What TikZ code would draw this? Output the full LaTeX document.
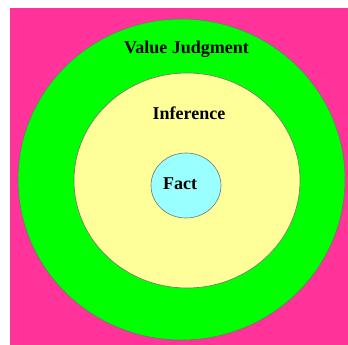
\documentclass[tikz,border=0pt]{standalone}
\usepackage{fontspec}
\setmainfont{Liberation Serif}
\usetikzlibrary{shapes.geometric}
\definecolor{bgpink}{RGB}{255,51,153}
\definecolor{ringgreen}{RGB}{0,255,0}
\definecolor{ringyellow}{RGB}{255,255,153}
\definecolor{corecyan}{RGB}{153,255,255}
\tikzstyle{ring} = [ellipse, draw=black!55, line width=0.6pt, inner sep=0pt]
\tikzstyle{label} = [font=\fontsize{18}{20}\selectfont\bfseries, anchor=base, inner sep=0pt]

\begin{document}
\begin{tikzpicture}[x=1pt, y=-1pt]
\useasboundingbox (0,0) rectangle (348,345);
\fill [bgpink] (10,8) rectangle (348,345);
\node (judgment) [ring, fill=ringgreen, minimum width=327pt, minimum height=321pt] at (181.5,179.5) {};
\node (inference) [ring, fill=ringyellow, minimum width=226pt, minimum height=215pt] at (187,180.5) {};
\node (fact) [ring, fill=corecyan, minimum width=70pt, minimum height=65pt] at (186,185.5) {};

\node (judgmenttext) [label] at (186.5,54) {Value Judgment};
\node (inferencetext) [label] at (189,119) {Inference};
\node (facttext) [label] at (180,189) {Fact};
\end{tikzpicture}
\end{document}
